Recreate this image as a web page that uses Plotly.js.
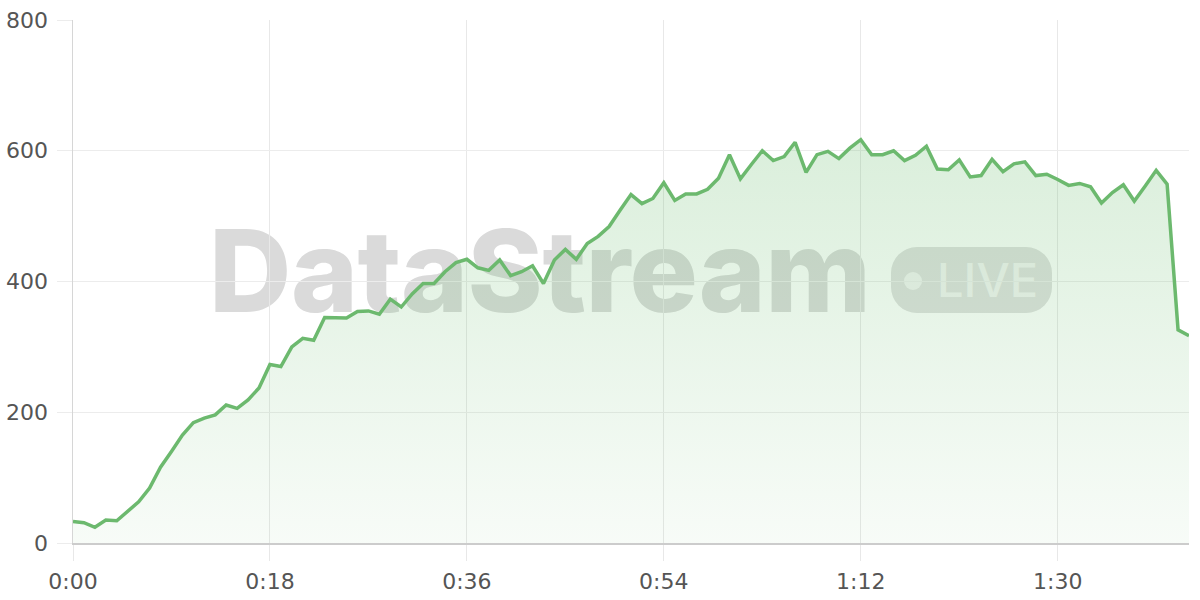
<!DOCTYPE html>
<html><head><meta charset="utf-8">
<script src="https://cdn.plot.ly/plotly-3.0.1.min.js"></script>
<style>
html,body{margin:0;padding:0;background:#fff;}
#wrap{position:relative;width:1200px;height:600px;overflow:hidden;}
#wm{position:absolute;left:0;top:0;width:1200px;height:600px;pointer-events:none;}
#plot{position:absolute;left:0;top:0;width:1200px;height:600px;}
</style></head><body>
<div id="wrap">
<svg id="wm" width="1200" height="600" xmlns="http://www.w3.org/2000/svg">
  <text x="209" y="312" font-family="Inter" font-weight="800" font-size="114" letter-spacing="-0.5" fill="#dadada">DataStream</text>
  <rect x="891" y="247" width="161" height="66" rx="26" ry="26" fill="#e0e0e0"/>
  <circle cx="913" cy="281" r="9" fill="#f3f3f3"/>
  <text x="937" y="297" font-family="Inter" font-weight="500" font-size="47" fill="#f3f3f3">LIVE</text>
</svg>
<div id="plot"></div>
</div>
<script>
const seconds = [];
for (let i = 0; i <= 102; i++) seconds.push(i);
const viewers = [33,31,24,35,34,48,63,84,116,140,
  165,184,191,196,211,206,219,237,273,270,
  300,313,310,345,344,344,354,355,350,373,
  361,381,397,397,415,429,434,421,417,433,
  409,415,424,397,433,449,434,458,469,484,
  509,533,519,527,551,524,534,534,541,558,
  594,557,579,600,585,591,613,567,594,599,
  588,604,617,594,594,600,585,593,607,572,
  571,586,560,562,587,568,580,583,562,564,
  556,547,550,545,520,536,548,523,546,570,
  549,326,317];
const xTickVals = [0,18,36,54,72,90];
const xTickLabels = ['0:00','0:18','0:36','0:54','1:12','1:30'];
const yTickVals = [0,200,400,600,800];

const trace = {
  x: seconds, y: viewers, type: 'scatter', mode: 'lines',
  line: {color: '#6cb96e', width: 3.5, shape: 'linear'},
  fill: 'tozeroy',
  fillgradient: {type: 'vertical', start: 0, stop: 620,
    colorscale: [[0, 'rgba(102,187,106,0.05)'], [1, 'rgba(102,187,106,0.24)']]},
  hoverinfo: 'skip'
};
const tickFont = {family: 'DejaVu Sans, sans-serif', size: 22, color: '#555555'};
const layout = {
  width: 1200, height: 600,
  margin: {l: 73, r: 11, t: 20, b: 57},
  paper_bgcolor: 'rgba(0,0,0,0)', plot_bgcolor: 'rgba(0,0,0,0)',
  showlegend: false,
  xaxis: {
    range: [0, 102], tickmode: 'array', tickvals: xTickVals, ticktext: xTickLabels,
    showgrid: true, gridcolor: '#e8e8e8', gridwidth: 1,
    ticks: 'outside', ticklen: 16, tickcolor: '#e8e8e8', tickwidth: 1,
    showline: true, linecolor: '#cccccc', linewidth: 1.5,
    zeroline: false, tickfont: tickFont, ticklabelstandoff: 2, fixedrange: true
  },
  yaxis: {
    range: [0, 800], tickmode: 'array', tickvals: yTickVals,
    showgrid: true, gridcolor: '#ececec', gridwidth: 1,
    ticks: 'outside', ticklen: 15, tickcolor: '#ececec', tickwidth: 1,
    showline: true, linecolor: '#d6d6d6', linewidth: 1.5,
    zeroline: false, tickfont: tickFont, ticklabelstandoff: 4, fixedrange: true
  }
};
Plotly.newPlot('plot', [trace], layout, {displayModeBar: false, staticPlot: true});
</script>
</body></html>
